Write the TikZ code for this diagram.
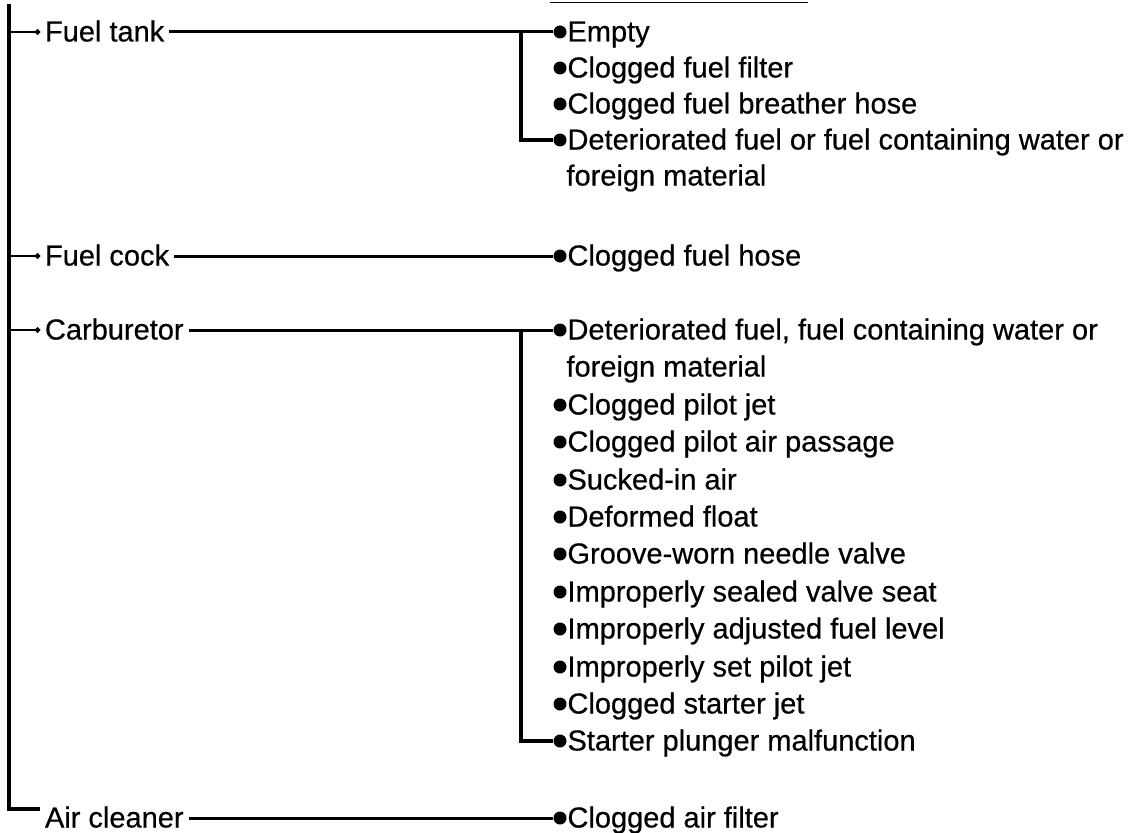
\documentclass[tikz,border=0pt]{standalone}
\usepackage{fontspec}
\setmainfont{Liberation Sans}[FakeBold=0.5]
\usetikzlibrary{arrows.meta}

\newcommand{\bul}{\tikz[baseline={(0pt,-9.5pt)}]\fill (0pt,0pt) circle[radius=6.5pt];\kern1pt}
\tikzset{
  grp/.style={anchor=west, inner sep=0pt, outer sep=5pt, text height=22pt, text depth=3pt, font=\fontsize{29}{34}\selectfont},
  cause/.style={anchor=west, inner sep=0pt, outer sep=0.5pt, text height=22pt, text depth=3pt, font=\fontsize{29}{34}\selectfont},
  trunk/.style={line width=3.8pt},
  branch/.style={line width=3pt},
  stub/.style={line width=2.6pt, -{Circle[length=5pt]}},
}

\begin{document}
\begin{tikzpicture}[x=1pt, y=-1pt]
\useasboundingbox (0,0) rectangle (1131,832);
% rule at the top
\draw[line width=1.2pt] (550,2.5) -- (808,2.5);
% parts
\node[grp] (tank) at (40,32) {Fuel tank};
\node[grp] (cock) at (40,256) {Fuel cock};
\node[grp] (carb) at (40,330) {Carburetor};
\node[grp] (air) at (40,818) {Air cleaner};
\coordinate (top) at (9,4);
% causes
\node[cause] (tank1) at (553,32) {\bul Empty};
\node[cause] (tank2) at (553,68) {\bul Clogged fuel filter};
\node[cause] (tank3) at (553,104) {\bul Clogged fuel breather hose};
\node[cause] (tank4) at (553,140) {\bul Deteriorated fuel or fuel containing water or};
\node[cause] (tank4b) at (566,176) {foreign material};
\node[cause] (cock1) at (553,256) {\bul Clogged fuel hose};
\node[cause] (carb1) at (553,330) {\bul Deteriorated fuel, fuel containing water or};
\node[cause] (carb1b) at (566,367) {foreign material};
\node[cause] (carb2) at (553,405) {\bul Clogged pilot jet};
\node[cause] (carb3) at (553,442) {\bul Clogged pilot air passage};
\node[cause] (carb4) at (553,480) {\bul Sucked-in air};
\node[cause] (carb5) at (553,517) {\bul Deformed float};
\node[cause] (carb6) at (553,554) {\bul Groove-worn needle valve};
\node[cause] (carb7) at (553,592) {\bul Improperly sealed valve seat};
\node[cause] (carb8) at (553,629) {\bul Improperly adjusted fuel level};
\node[cause] (carb9) at (553,667) {\bul Improperly set pilot jet};
\node[cause] (carb10) at (553,704) {\bul Clogged starter jet};
\node[cause] (carb11) at (553,741) {\bul Starter plunger malfunction};
\node[cause] (air1) at (553,818) {\bul Clogged air filter};
\coordinate (tankj) at (521,32);
\coordinate (carbj) at (521,330);
% connectors
\draw[trunk] (top) |- ([yshift=9pt]air.west);
\draw[stub] (tank.west -| top) -- (tank.west);
\draw[stub] (cock.west -| top) -- (cock.west);
\draw[stub] (carb.west -| top) -- (carb.west);
\draw[branch] (tank) -- (tank1);
\draw[branch] (cock) -- (cock1);
\draw[branch] (carb) -- (carb1);
\draw[branch] (air) -- (air1);
\draw[trunk] (tankj) |- (tank4);
\draw[trunk] (carbj) |- (carb11);
\end{tikzpicture}
\end{document}
